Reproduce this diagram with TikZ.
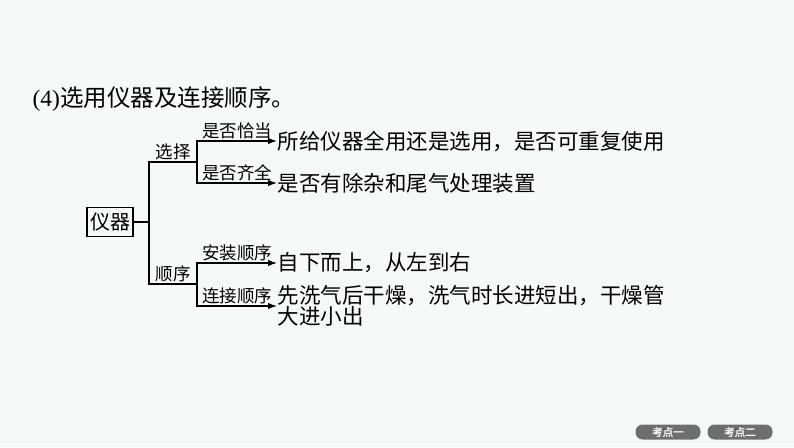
\documentclass[tikz,border=0pt]{standalone}
\usepackage{fontspec}
\setmainfont{Liberation Serif}
\newfontfamily\cjk{Noto Sans CJK SC}
\newfontfamily\cjkbf{Noto Sans CJK SC}[FakeBold=1.5]
\usetikzlibrary{arrows.meta,positioning}
\definecolor{BackClr}{RGB}{246,250,247}
\definecolor{PillClr}{RGB}{110,110,110}

\begin{document}
\begin{tikzpicture}[x=1pt,y=-1pt,line width=1.3pt,
  box/.style={draw,line width=1.3pt,inner sep=3pt,minimum height=29pt,font=\cjk\fontsize{20}{20}\selectfont},
  lbl/.style={font=\cjk\fontsize{17.5}{17.5}\selectfont,inner sep=1pt},
  leaf/.style={font=\cjk\fontsize{21.5}{21}\selectfont,inner sep=0pt,align=left,anchor=west},
  arr/.style={-{Latex[length=9pt,width=6.5pt]}},
  pill/.style={fill=PillClr,rounded corners=7pt,minimum width=65pt,minimum height=15pt,inner sep=0pt,text=white,font=\cjkbf\fontsize{10.5}{10.5}\selectfont}]

\fill[BackClr] (0,0) rectangle (794,447);
\useasboundingbox (0,0) rectangle (794,447);

\node[anchor=west,inner sep=0pt,font=\fontsize{23.5}{23.5}\selectfont] (title) at (32,99) {(4)\cjk 选用仪器及连接顺序。};

\node[box] (yq) at (110,222) {仪器};

\coordinate (jn) at (149,222);
\coordinate (xz) at (149,162);
\coordinate (sx) at (149,284);
\coordinate (xzr) at (197,162);
\coordinate (sxr) at (197,284);
\coordinate (a1) at (197,141);
\coordinate (a2) at (197,183);
\coordinate (b1) at (197,263);
\coordinate (b2) at (197,306);

\node[leaf] (t1) at (277,141) {所给仪器全用还是选用，是否可重复使用};
\node[leaf] (t2) at (277,183) {是否有除杂和尾气处理装置};
\node[leaf] (t3) at (277,263) {自下而上，从左到右};
\node[leaf] (t4) at (277,306) {先洗气后干燥，洗气时长进短出，干燥管\\大进小出};

\draw (yq) -- (jn);
\draw (xzr) -- node[lbl,above] (lxz) {选择} (xz) -- (sx) -- node[lbl,above] (lsx) {顺序} (sxr);

\draw[arr] (a2) -- (a1) -- node[lbl,above] (la1) {是否恰当} (t1.west);
\draw[arr] (a1) -- (a2) -- node[lbl,above] (la2) {是否齐全} (t2.west);
\draw[arr] (b2) -- (b1) -- node[lbl,above] (lb1) {安装顺序} (t3.west);
\draw[arr] (b1) -- (b2) -- node[lbl,above] (lb2) {连接顺序} (t4.west);

\node[pill] (kd1) at (668,432) {考点一};
\node[pill] (kd2) at (740,432) {考点二};

\end{tikzpicture}
\end{document}
